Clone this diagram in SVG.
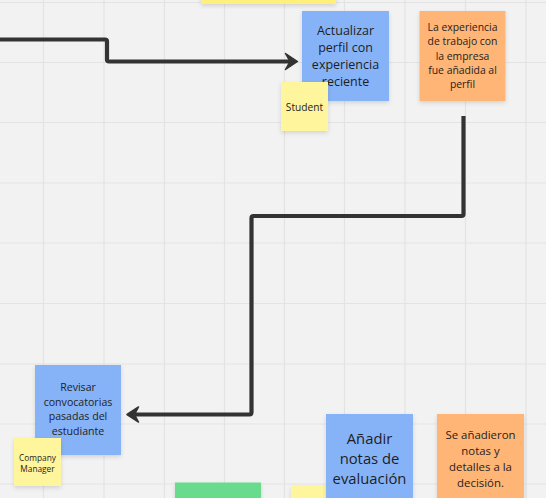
<svg xmlns="http://www.w3.org/2000/svg" width="546" height="498" viewBox="0 0 546 498">
<defs>
<filter id="sh" x="-20%" y="-20%" width="140%" height="150%">
<feDropShadow dx="0" dy="2" stdDeviation="2" flood-color="#000" flood-opacity="0.13"/>
</filter>
</defs>
<style>
.grid line{stroke:#e3e3e3;stroke-width:1.2}
.blue{fill:#86b3f7}
.orange{fill:#feb576}
.yel{fill:#fef59c}
.yel2{fill:#fff07c}
.green{fill:#68db8c}
.conn{fill:none;stroke:#333;stroke-width:4.2;stroke-linejoin:round}
.ah{fill:#333;stroke:#333;stroke-width:1.5;stroke-linejoin:round}
text{font-family:"Open Sans","Noto Sans",sans-serif;fill:#1e1e1e;text-anchor:middle;dominant-baseline:central}
</style>
<rect width="546" height="498" fill="#f2f2f2"/>
<g class="grid">
<line x1="43.5" y1="0" x2="43.5" y2="498"/>
<line x1="104" y1="0" x2="104" y2="498"/>
<line x1="164.5" y1="0" x2="164.5" y2="498"/>
<line x1="224.5" y1="0" x2="224.5" y2="498"/>
<line x1="284.5" y1="0" x2="284.5" y2="498"/>
<line x1="344.5" y1="0" x2="344.5" y2="498"/>
<line x1="405" y1="0" x2="405" y2="498"/>
<line x1="465.5" y1="0" x2="465.5" y2="498"/>
<line x1="526" y1="0" x2="526" y2="498"/>
<line x1="0" y1="2.5" x2="546" y2="2.5"/>
<line x1="0" y1="62.5" x2="546" y2="62.5"/>
<line x1="0" y1="122.5" x2="546" y2="122.5"/>
<line x1="0" y1="183" x2="546" y2="183"/>
<line x1="0" y1="243" x2="546" y2="243"/>
<line x1="0" y1="303.5" x2="546" y2="303.5"/>
<line x1="0" y1="364" x2="546" y2="364"/>
<line x1="0" y1="424" x2="546" y2="424"/>
<line x1="0" y1="484" x2="546" y2="484"/>
</g>
<g id="connectors">
<path class="conn" d="M0 39.5 H105 Q107 39.5 107 41.5 V59.5 Q107 61.5 109 61.5 H290"/>
<path class="ah" d="M297.5 61.5 L285.5 53.5 L290 61.5 L285.5 69.5 Z"/>
<path class="conn" d="M463.5 116 V214 Q463.5 216 461.5 216 H253.5 Q251.5 216 251.5 218 V412 Q251.5 414.5 249.5 414.5 H135"/>
<path class="ah" d="M127 414.5 L138.5 407 L134.5 414.5 L138.5 422 Z"/>
</g>
<g id="node-top-yellow">
<rect class="yel2" x="201" y="-10" width="135" height="14" filter="url(#sh)"/>
</g>
<g id="node-actualizar">
<rect class="blue" x="302" y="11" width="87" height="90" filter="url(#sh)"/>
<text x="345.5" font-size="12.5"><tspan x="345.5" y="29.5">Actualizar</tspan><tspan x="345.5" y="46.5">perfil con</tspan><tspan x="345.5" y="63.5">experiencia</tspan><tspan x="345.5" y="80.5">reciente</tspan></text>
</g>
<g id="node-student">
<rect class="yel" x="281" y="82" width="47" height="49" filter="url(#sh)"/>
<text x="304.5" y="106.5" font-size="10.2">Student</text>
</g>
<g id="node-experiencia">
<rect class="orange" x="419.5" y="11" width="86" height="90" filter="url(#sh)"/>
<text x="462.5" font-size="10.4"><tspan x="462.5" y="26.7">La experiencia</tspan><tspan x="462.5" y="41.3">de trabajo con</tspan><tspan x="462.5" y="55.6">la empresa</tspan><tspan x="462.5" y="70">fue añadida al</tspan><tspan x="462.5" y="84.4">perfil</tspan></text>
</g>
<g id="node-revisar">
<rect class="blue" x="35" y="365" width="86" height="90" filter="url(#sh)"/>
<text x="78" font-size="10.6"><tspan x="78" y="387.3">Revisar</tspan><tspan x="78" y="402">convocatorias</tspan><tspan x="78" y="416.3">pasadas del</tspan><tspan x="78" y="430.7">estudiante</tspan></text>
</g>
<g id="node-company-manager">
<rect class="yel" x="14" y="438" width="47" height="48" filter="url(#sh)"/>
<text x="37.5" font-size="8.3"><tspan x="37.5" y="456.7">Company</tspan><tspan x="37.5" y="467.5">Manager</tspan></text>
</g>
<g id="node-green">
<rect class="green" x="175" y="482.5" width="86" height="30" filter="url(#sh)"/>
</g>
<g id="node-bottom-yellow">
<rect class="yel" x="291" y="486" width="47" height="30" filter="url(#sh)"/>
</g>
<g id="node-anadir">
<rect class="blue" x="326" y="414" width="87" height="100" filter="url(#sh)"/>
<text x="369.5" font-size="14.8"><tspan x="369.5" y="438.3">Añadir</tspan><tspan x="369.5" y="458.3">notas de</tspan><tspan x="369.5" y="477.8">evaluación</tspan></text>
</g>
<g id="node-se-anadieron">
<rect class="orange" x="437" y="414" width="87" height="100" filter="url(#sh)"/>
<text x="480.5" font-size="11.4"><tspan x="480.5" y="434">Se añadieron</tspan><tspan x="480.5" y="450">notas y</tspan><tspan x="480.5" y="466">detalles a la</tspan><tspan x="480.5" y="481.7">decisión.</tspan></text>
</g>
</svg>
